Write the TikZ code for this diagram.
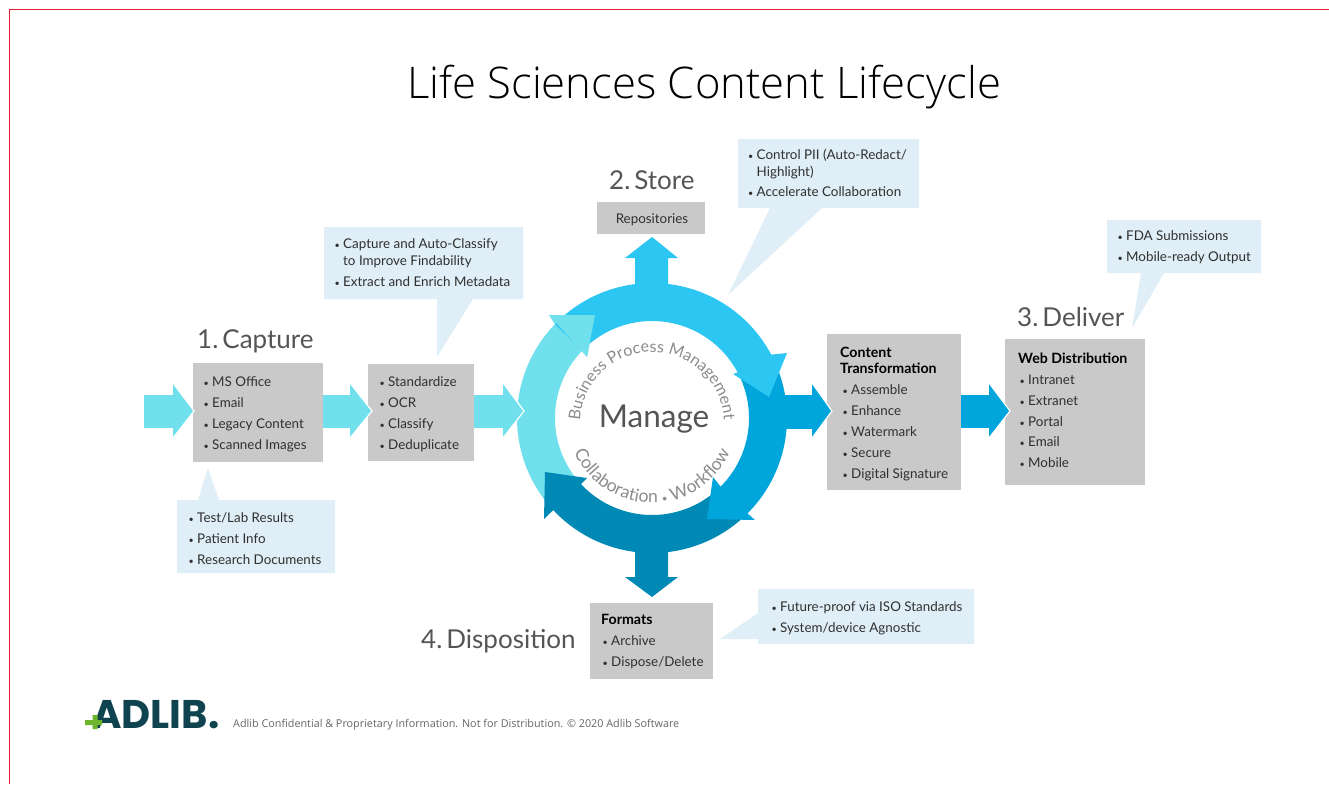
\documentclass[tikz,border=0pt]{standalone}
\usepackage{fontspec}
\setmainfont{Lato}
\newfontfamily\titlefont{Open Sans Light}
\newfontfamily\openfont{Open Sans}
\newfontfamily\logofont{Poppins}
\usetikzlibrary{decorations.text}
\definecolor{graybox}{HTML}{C9C9C9}
\definecolor{callout}{HTML}{DFEEF7}
\definecolor{cyanA}{HTML}{70E0EC}
\definecolor{cyanB}{HTML}{2CC6F3}
\definecolor{cyanC}{HTML}{00A5DB}
\definecolor{cyanD}{HTML}{0089B5}
\definecolor{headgray}{HTML}{555555}
\definecolor{textdark}{HTML}{303030}
\definecolor{arcgray}{HTML}{8C8C8C}
\definecolor{logoteal}{HTML}{0F4350}
\definecolor{logogreen}{HTML}{6CB52D}
\definecolor{framered}{HTML}{E02030}
\newcommand{\fs}[1]{\fontsize{#1}{#1}\selectfont}
\newcommand{\itm}[1]{\makebox[8.5pt][l]{\fs{9}•}#1}
\newcommand{\ringpoly}[4]{%
  \fill[#1] plot[domain=#2:#3,samples=60] ({652+135*cos(\x)},{418+135*sin(\x)})
    -- #4
    -- plot[domain=#3:#2,samples=60] ({652+97*cos(\x)},{418+97*sin(\x)}) -- cycle;}
\newcommand{\tipov}[3]{%
  \fill[#1] (#2,383) -- (#3,411) -- (#2,438) -- cycle;
  \draw[white,line width=1.2pt] (#2,383) -- (#3,411) -- (#2,438);}
\tikzset{
  graybx/.style={fill=graybox,draw=none},
  callbx/.style={fill=callout,draw=none},
  itemtxt/.style={anchor=west,inner sep=0pt,text=textdark,font=\fs{13.4},text height=11pt,text depth=1pt},
  boldtxt/.style={anchor=west,inner sep=0pt,text=black,font=\fs{14.2}\bfseries,text height=11pt,text depth=1pt},
  headtxt/.style={anchor=base west,inner sep=0pt,text=headgray,font=\fs{26}},
}
\begin{document}
\begin{tikzpicture}[x=1pt,y=-1pt]
\useasboundingbox (0,0) rectangle (1329,784);
\fill[white] (0,0) rectangle (1329,784);
\fill[framered] (9,9) rectangle (1329,10.4);
\fill[framered] (9,9) rectangle (10.4,784);
\node[anchor=center,inner sep=0pt,text=black,font=\titlefont\fs{43.6}] (title) at (704,87) {Life Sciences Content Lifecycle};

% feeder arrows (stems)
\fill[cyanA] (144,395) -- (173,395) -- (173,428) -- (144,428) -- cycle;
\fill[cyanA] (323,395) -- (350,395) -- (350,428) -- (323,428) -- cycle;
\fill[cyanA] (473,395) -- (503,395) -- (503,428) -- (473,428) -- cycle;
\fill[cyanC] (961,395) -- (989,395) -- (989,428) -- (961,428) -- cycle;

% stems
\fill[cyanB] (635,295) -- (635,258) -- (625,258) -- (652,237) -- (678,258) -- (668,258) -- (668,295) -- cycle;
\fill[cyanD] (635,540) -- (635,577) -- (625,577) -- (652,597) -- (678,577) -- (668,577) -- (668,540) -- cycle;
\fill[cyanC] (780,395) -- (812,395) -- (812,429) -- (780,429) -- cycle;

% ring
\ringpoly{cyanA}{137}{224}{(549,315) -- (595,315) -- (587,357)}
\ringpoly{cyanD}{45}{137}{(544,519) -- (545,472) -- (587,478)}
\ringpoly{cyanC}{-28}{45}{(755,520) -- (707,519) -- (713,477)}
\ringpoly{cyanB}{224}{332}{(787,353) -- (769,397) -- (733,374)}
\fill[cyanA] (549,315) -- (595,315) -- (587,357) -- cycle;

% centre
\node[inner sep=0pt,text=headgray,font=\fs{31.5}] (manage) at (654,419) {Manage};
\path[postaction={decorate,decoration={text along path,text align=center,
   text format delimiters={|}{|},
   text={|\fs{16.2}\color{arcgray}|Business Process Management}}}]
   plot[domain=170:370,samples=100] ({652+72*cos(\x)},{424+72*sin(\x)});
\path[postaction={decorate,decoration={text along path,text align=center,
   text format delimiters={|}{|},
   text={|\fs{17.6}\color{arcgray}|Collaboration |\fs{10}\color{arcgray}|•|\fs{17.6}\color{arcgray}| Workflow}}}]
   plot[domain=175:5,samples=100] ({652+85*cos(\x)},{418+85*sin(\x)});

% gray boxes
\fill[graybx] (193,363) rectangle (323,462);
\fill[graybx] (368,364) rectangle (474,461);
\fill[graybx] (597,202) rectangle (705,234);
\fill[graybx] (827,334) rectangle (961,490);
\fill[graybx] (1005,339) rectangle (1145,485);
\fill[graybx] (590,603) rectangle (713,679);

% arrow tips, over the boxes and the ring
\tipov{cyanA}{173}{194}
\tipov{cyanA}{350}{372}
\tipov{cyanA}{503}{524}
\tipov{cyanC}{812}{832}
\tipov{cyanC}{989}{1010}

% callouts
\fill[callbx] (324,227) -- (523,227) -- (523,299) -- (473,299) -- (437,357) -- (437,299) -- (324,299) -- cycle;
\fill[callbx] (738,139) -- (919,139) -- (919,208) -- (822,208) -- (728,295) -- (770,208) -- (738,208) -- cycle;
\fill[callbx] (1107,220) -- (1261,220) -- (1261,273) -- (1164,273) -- (1132,328) -- (1141,273) -- (1107,273) -- cycle;
\fill[callbx] (177,500) -- (198,500) -- (208,468) -- (219,500) -- (335,500) -- (335,573) -- (177,573) -- cycle;
\fill[callbx] (758,589) -- (974,589) -- (974,644) -- (758,644) -- (758,639) -- (720,639) -- (758,613) -- cycle;

% headings
\node[headtxt] (h1) at (197,348) {1.\hspace{4pt}Capture};
\node[headtxt] (h2) at (609,189) {2.\hspace{4pt}Store};
\node[headtxt] (h3) at (1017,326) {3.\hspace{4pt}Deliver};
\node[headtxt] (h4) at (421,648) {4.\hspace{4pt}Disposition};

% capture
\node[itemtxt] at (203.5,381) {\itm{MS Office}};
\node[itemtxt] at (203.5,402) {\itm{Email}};
\node[itemtxt] at (203.5,423) {\itm{Legacy Content}};
\node[itemtxt] at (203.5,444) {\itm{Scanned Images}};
% standardize
\node[itemtxt] at (379.5,381) {\itm{Standardize}};
\node[itemtxt] at (379.5,402) {\itm{OCR}};
\node[itemtxt] at (379.5,423) {\itm{Classify}};
\node[itemtxt] at (379.5,444) {\itm{Deduplicate}};
% store
\node[itemtxt,anchor=center] at (652,218) {Repositories};
% transformation
\node[boldtxt] at (840,352) {Content};
\node[boldtxt] at (840,368) {Transformation};
\node[itemtxt] at (842.5,389) {\itm{Assemble}};
\node[itemtxt] at (842.5,410) {\itm{Enhance}};
\node[itemtxt] at (842.5,431) {\itm{Watermark}};
\node[itemtxt] at (842.5,452) {\itm{Secure}};
\node[itemtxt] at (842.5,473) {\itm{Digital Signature}};
% web
\node[boldtxt] at (1018,358) {Web Distribution};
\node[itemtxt] at (1019.5,379) {\itm{Intranet}};
\node[itemtxt] at (1019.5,400) {\itm{Extranet}};
\node[itemtxt] at (1019.5,421) {\itm{Portal}};
\node[itemtxt] at (1019.5,441) {\itm{Email}};
\node[itemtxt] at (1019.5,462) {\itm{Mobile}};
% formats
\node[boldtxt] at (601,619) {Formats};
\node[itemtxt] at (602.5,640) {\itm{Archive}};
\node[itemtxt] at (602.5,661) {\itm{Dispose/Delete}};
% callout texts
\node[itemtxt] at (334.5,243) {\itm{Capture and Auto-Classify}};
\node[itemtxt] at (343,260) {to Improve Findability};
\node[itemtxt] at (334.5,281) {\itm{Extract and Enrich Metadata}};
\node[itemtxt] at (748,154) {\itm{Control PII (Auto-Redact/}};
\node[itemtxt] at (756.5,171) {Highlight)};
\node[itemtxt] at (748,191) {\itm{Accelerate Collaboration}};
\node[itemtxt] at (1117.5,235) {\itm{FDA Submissions}};
\node[itemtxt] at (1117.5,256) {\itm{Mobile-ready Output}};
\node[itemtxt] at (188.5,517) {\itm{Test/Lab Results}};
\node[itemtxt] at (188.5,538) {\itm{Patient Info}};
\node[itemtxt] at (188.5,559) {\itm{Research Documents}};
\node[itemtxt] at (771.5,606) {\itm{Future-proof via ISO Standards}};
\node[itemtxt] at (771.5,627) {\itm{System/device Agnostic}};

% footer
\node[anchor=west,inner sep=0pt,text=black!60,font=\openfont\fs{10.8}] (foot) at (233,725) {Adlib Confidential \& Proprietary Information. Not for Distribution. © 2020 Adlib Software};
\node[anchor=base west,inner sep=0pt,text=logoteal,font=\logofont\fs{40}\bfseries] (logo) at (92,728) {ADLIB.};
\fill[logogreen] (85,720) -- (92.5,720) -- (92.5,715) -- (97.5,715) -- (97.5,720) -- (102,720) -- (102,725) -- (97.5,725) -- (97.5,729) -- (92.5,729) -- (92.5,725) -- (85,725) -- cycle;
\end{tikzpicture}
\end{document}
